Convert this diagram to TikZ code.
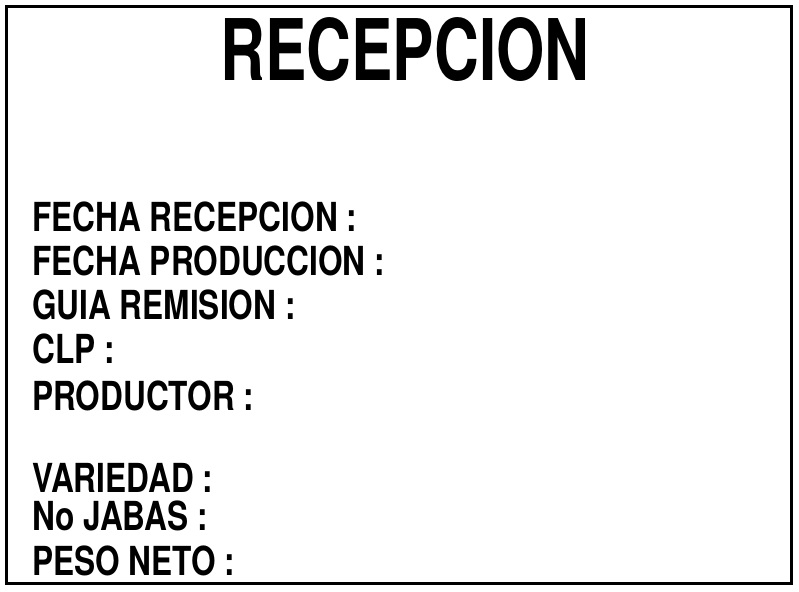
\documentclass[tikz,border=0pt]{standalone}
\usepackage{fontspec}
\usepackage{tikz}
\newfontfamily\titlefont[FakeStretch=0.73]{TeX Gyre Heros}
\newfontfamily\fieldfont[FakeStretch=0.79]{TeX Gyre Heros}
\begin{document}
\begin{tikzpicture}[x=1pt, y=-1pt,
      frame/.style={line width=3pt},
      ttl/.style={inner sep=0pt, anchor=base, font=\titlefont\bfseries\fontsize{85}{85}\selectfont},
      fld/.style={inner sep=0pt, anchor=base west, font=\fieldfont\bfseries\fontsize{40}{40}\selectfont}]

      \useasboundingbox (0,0) rectangle (799,591);
      \draw[frame] (6.5,6.5) rectangle (791.5,583.5);

      \node[ttl] (title) at (405,81) {RECEPCION};

      \node[fld] (frecep) at (32,231) {FECHA RECEPCION :};
      \node[fld] (fprod) at (32,275) {FECHA PRODUCCION :};
      \node[fld] (guia) at (32,319) {GUIA REMISION :};
      \node[fld] (clp) at (32,363) {CLP :};
      \node[fld] (prod) at (32,410) {PRODUCTOR :};

      \node[fld] (var) at (32,492) {VARIEDAD :};
      \node[fld] (jabas) at (32,530) {No JABAS :};
      \node[fld] (peso) at (32,575) {PESO NETO :};

    \end{tikzpicture}
\end{document}
